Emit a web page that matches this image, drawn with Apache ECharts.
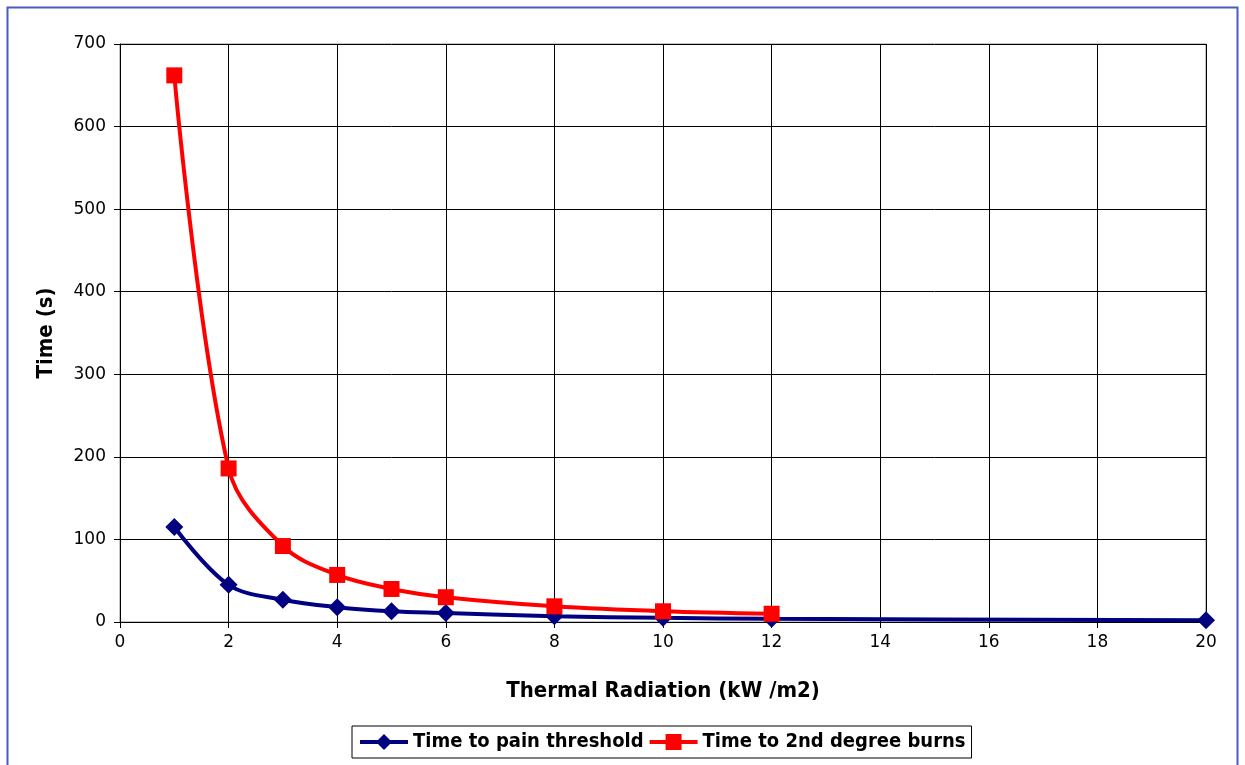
<!DOCTYPE html>
<html><head><meta charset="utf-8">
<script src="https://cdn.jsdelivr.net/npm/echarts@6/dist/echarts.min.js"></script>
<style>html,body{margin:0;padding:0;background:#fff}#c{width:1245px;height:765px}</style>
</head><body><div id="c"></div>
<script>
const painX = [1, 2, 3, 4, 5, 6, 8, 10, 12, 20];
const painY = [115, 45, 27, 18, 13, 11, 7, 5, 4, 2];
const burnX = [1, 2, 3, 4, 5, 6, 8, 10, 12];
const burnY = [662, 186, 92, 57, 40, 30, 19, 13, 10];
const xTicks = [0,2,4,6,8,10,12,14,16,18,20];
const yTicks = [0,100,200,300,400,500,600,700];

const chart = echarts.init(document.getElementById('c'));
const F = '"DejaVu Sans Condensed", "DejaVu Sans", sans-serif';
const FT = '"DejaVu Sans", sans-serif';
chart.setOption({
  animation: false,
  graphic: [{type:'rect', shape:{x:7.5,y:7.5,width:1230,height:770}, style:{fill:null, stroke:'#4a5cbf', lineWidth:2}, z:-1}],
  grid: {left:120, right:39, top:44, bottom:143, show:true, borderColor:'#888', borderWidth:1},
  xAxis: {type:'value', min:0, max:20, interval:2,
    name:'Thermal Radiation (kW /m2)', nameLocation:'middle', nameGap:58,
    nameTextStyle:{fontFamily:F, fontWeight:'bold', fontSize:22, color:'#000'},
    axisLine:{onZero:false, lineStyle:{color:'#000', width:1}},
    axisTick:{show:true, length:6, lineStyle:{color:'#000'}},
    axisLabel:{fontFamily:FT, fontSize:17, color:'#000', margin:12, formatter: v => xTicks.includes(v) ? String(v) : ''},
    splitLine:{show:true, lineStyle:{color:'#000', width:1}}},
  yAxis: {type:'value', min:0, max:700, interval:100,
    name:'Time (s)', nameLocation:'middle', nameGap:63,
    nameTextStyle:{fontFamily:F, fontWeight:'bold', fontSize:22, color:'#000'},
    axisLine:{show:true, lineStyle:{color:'#000', width:1}},
    axisTick:{show:true, length:6, lineStyle:{color:'#000'}},
    axisLabel:{fontFamily:FT, fontSize:17, color:'#000', margin:14, formatter: v => yTicks.includes(v) ? String(v) : ''},
    splitLine:{show:true, lineStyle:{color:'#000', width:1}}},
  legend: {bottom:7, left:352, itemGap:4, itemWidth:48, itemHeight:20,
    borderColor:'#000', borderWidth:1, padding:[6,6,6,6],
    textStyle:{fontFamily:F, fontWeight:'bold', fontSize:20, color:'#000'},
    data:[
      {name:'Time to pain threshold', lineStyle:{width:4}},
      {name:'Time to 2nd degree burns', lineStyle:{width:4}}
    ]},
  series: [
    {name:'Time to pain threshold', type:'line', smooth:0.35,
     data: painX.map((x,i)=>[x, painY[i]]),
     symbol:'diamond', symbolSize:18,
     lineStyle:{color:'#000080', width:4}, itemStyle:{color:'#000080'}, z:3},
    {name:'Time to 2nd degree burns', type:'line', smooth:0.35,
     data: burnX.map((x,i)=>[x, burnY[i]]),
     symbol:'rect', symbolSize:16,
     lineStyle:{color:'#ff0000', width:4}, itemStyle:{color:'#ff0000'}, z:4}
  ]
});
</script></body></html>
